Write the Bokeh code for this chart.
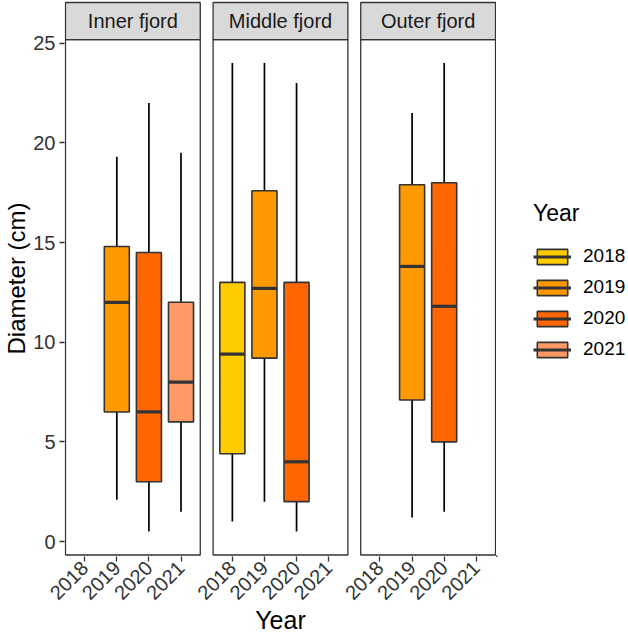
import math
from bokeh.plotting import figure
from bokeh.layouts import row
from bokeh.models import ColumnDataSource, FixedTicker, Legend, LegendItem, Range1d
from bokeh.core.properties import value
from bokeh.embed import file_html
from bokeh.resources import INLINE

# ---------------- data ----------------
fjords = ["Inner fjord", "Middle fjord", "Outer fjord"]
years = ["2018", "2019", "2020", "2021"]
year_colors = ["#FFCC00", "#FF9900", "#FF6600", "#FF9966"]

box_fjord = ["Inner fjord", "Inner fjord", "Inner fjord",
             "Middle fjord", "Middle fjord", "Middle fjord",
             "Outer fjord", "Outer fjord"]
box_year = ["2019", "2020", "2021", "2018", "2019", "2020", "2019", "2020"]
whisker_low = [2.1, 0.5, 1.5, 1.0, 2.0, 0.5, 1.2, 1.5]
q1 = [6.5, 3.0, 6.0, 4.4, 9.2, 2.0, 7.1, 5.0]
median = [12.0, 6.5, 8.0, 9.4, 12.7, 4.0, 13.8, 11.8]
q3 = [14.8, 14.5, 12.0, 13.0, 17.6, 13.0, 17.9, 18.0]
whisker_high = [19.3, 22.0, 19.5, 24.0, 24.0, 23.0, 21.5, 24.0]
y_ticks = [0, 5, 10, 15, 20, 25]

# ---------------- layout constants ----------------
FONT = "Liberation Sans"
PANEL_STEP = 4.6          # distance between facet origins (x units)
PAD = 0.6                 # discrete expansion of each facet
BOX_W = 0.78
span = max(whisker_high) - min(whisker_low)
y_lo = min(whisker_low) - 0.05 * span
y_hi = max(whisker_high) + 0.05 * span
STRIP_TOP = 27.04

def xpos(fjord, year):
    return fjords.index(fjord) * PANEL_STEP + years.index(year)

panel_left = [i * PANEL_STEP - PAD for i in range(len(fjords))]
panel_right = [i * PANEL_STEP + len(years) - 1 + PAD for i in range(len(fjords))]

p = figure(width=496, height=636, output_backend="svg", toolbar_location=None,
           x_range=Range1d(panel_left[0] - 0.03, panel_right[-1] + 0.03),
           y_range=Range1d(-0.751, 27.14),
           min_border_left=64, min_border_right=0, min_border_top=0,
           min_border_bottom=79)
p.grid.visible = False
p.outline_line_color = None
p.background_fill_color = "white"

# legend-only figure (same glyphs, out of view)
leg_fig = figure(width=132, height=636, output_backend="svg", toolbar_location=None,
                 x_range=Range1d(100, 101), y_range=Range1d(100, 101),
                 x_axis_location=None, y_axis_location=None,
                 min_border_left=0, min_border_right=0, min_border_top=0,
                 min_border_bottom=0)
leg_fig.grid.visible = False
leg_fig.outline_line_color = None

# panels and strips
panel_src = ColumnDataSource(dict(
    left=panel_left,
    right=panel_right,
    cx=[i * PANEL_STEP + (len(years) - 1) / 2 for i in range(len(fjords))],
    name=fjords,
))
p.quad(left="left", right="right", bottom=y_hi, top=STRIP_TOP, source=panel_src,
       fill_color="#D9D9D9", line_color="#333333", line_width=1.3)
p.text(x="cx", y=(y_hi + STRIP_TOP) / 2, text="name", source=panel_src,
       text_align="center", text_baseline="middle", text_font=value(FONT),
       text_font_size="20px", text_color="#1A1A1A")

# boxes
legend_items = []
for year, col in zip(years, year_colors):
    idx = [i for i, y in enumerate(box_year) if y == year]
    xs = [xpos(box_fjord[i], year) for i in idx]
    src = ColumnDataSource(dict(
        x=xs,
        x0=[x - BOX_W / 2 for x in xs],
        x1=[x + BOX_W / 2 for x in xs],
        low=[whisker_low[i] for i in idx],
        q1=[q1[i] for i in idx],
        med=[median[i] for i in idx],
        q3=[q3[i] for i in idx],
        high=[whisker_high[i] for i in idx],
    ))
    p.segment(x0="x", y0="low", x1="x", y1="high", source=src,
              line_color="black", line_width=1.7)
    p.vbar(x="x", width=BOX_W, bottom="q1", top="q3", source=src,
           fill_color=col, line_color="#333333", line_width=1.6)
    p.segment(x0="x0", y0="med", x1="x1", y1="med", source=src,
              line_color="#333333", line_width=3.2)
    # legend keys
    vb = leg_fig.vbar(x="x", width=BOX_W, bottom="q1", top="q3", source=src,
                      fill_color=col, line_color="#333333", line_width=1.6)
    md = leg_fig.segment(x0="x0", y0="med", x1="x1", y1="med", source=src,
                         line_color="#333333", line_width=3.2)
    legend_items.append(LegendItem(label=year, renderers=[vb, md]))

p.quad(left="left", right="right", bottom=y_lo, top=y_hi, source=panel_src,
       fill_color=None, line_color="#333333", line_width=1.3)

# axes
tick_pos = []
overrides = {}
for f in fjords:
    for y in years:
        t = xpos(f, y)
        tick_pos.append(t)
        overrides[t] = y

for ax in (p.xaxis[0], p.yaxis[0]):
    ax.axis_line_color = None
    ax.major_tick_line_color = "#333333"
    ax.major_tick_line_width = 1.3
    ax.major_tick_out = 5
    ax.major_tick_in = 0
    ax.minor_tick_line_color = None
    ax.major_label_text_font = FONT
    ax.major_label_text_font_size = "20px"
    ax.major_label_text_color = "#333333"
    ax.axis_label_text_font = FONT
    ax.axis_label_text_font_style = "normal"
    ax.axis_label_text_color = "black"

p.yaxis.ticker = FixedTicker(ticks=y_ticks)
p.yaxis.major_label_standoff = 4
p.yaxis.axis_label = "Diameter (cm)"
p.yaxis.axis_label_text_font_size = "24px"
p.yaxis.axis_label_standoff = 0

p.xaxis.ticker = FixedTicker(ticks=tick_pos)
p.xaxis.major_label_overrides = overrides
p.xaxis.major_label_orientation = math.pi / 4
p.xaxis.major_label_standoff = 3
p.xaxis.axis_label = "Year"
p.xaxis.axis_label_text_font_size = "25px"
p.xaxis.axis_label_standoff = -3

legend = Legend(items=legend_items, location=(37, 196), title="Year",
                title_text_font=FONT, title_text_font_size="23px",
                title_text_font_style="normal",
                title_text_color="black", title_standoff=18,
                label_text_font=FONT, label_text_font_size="19px",
                label_text_color="black",
                glyph_width=38, glyph_height=19, label_standoff=12,
                label_height=19, spacing=9, padding=0, margin=0,
                border_line_color=None, background_fill_alpha=0)
leg_fig.add_layout(legend)

layout = row(p, leg_fig, spacing=0)
open("out.html", "w").write(file_html(layout, INLINE))
